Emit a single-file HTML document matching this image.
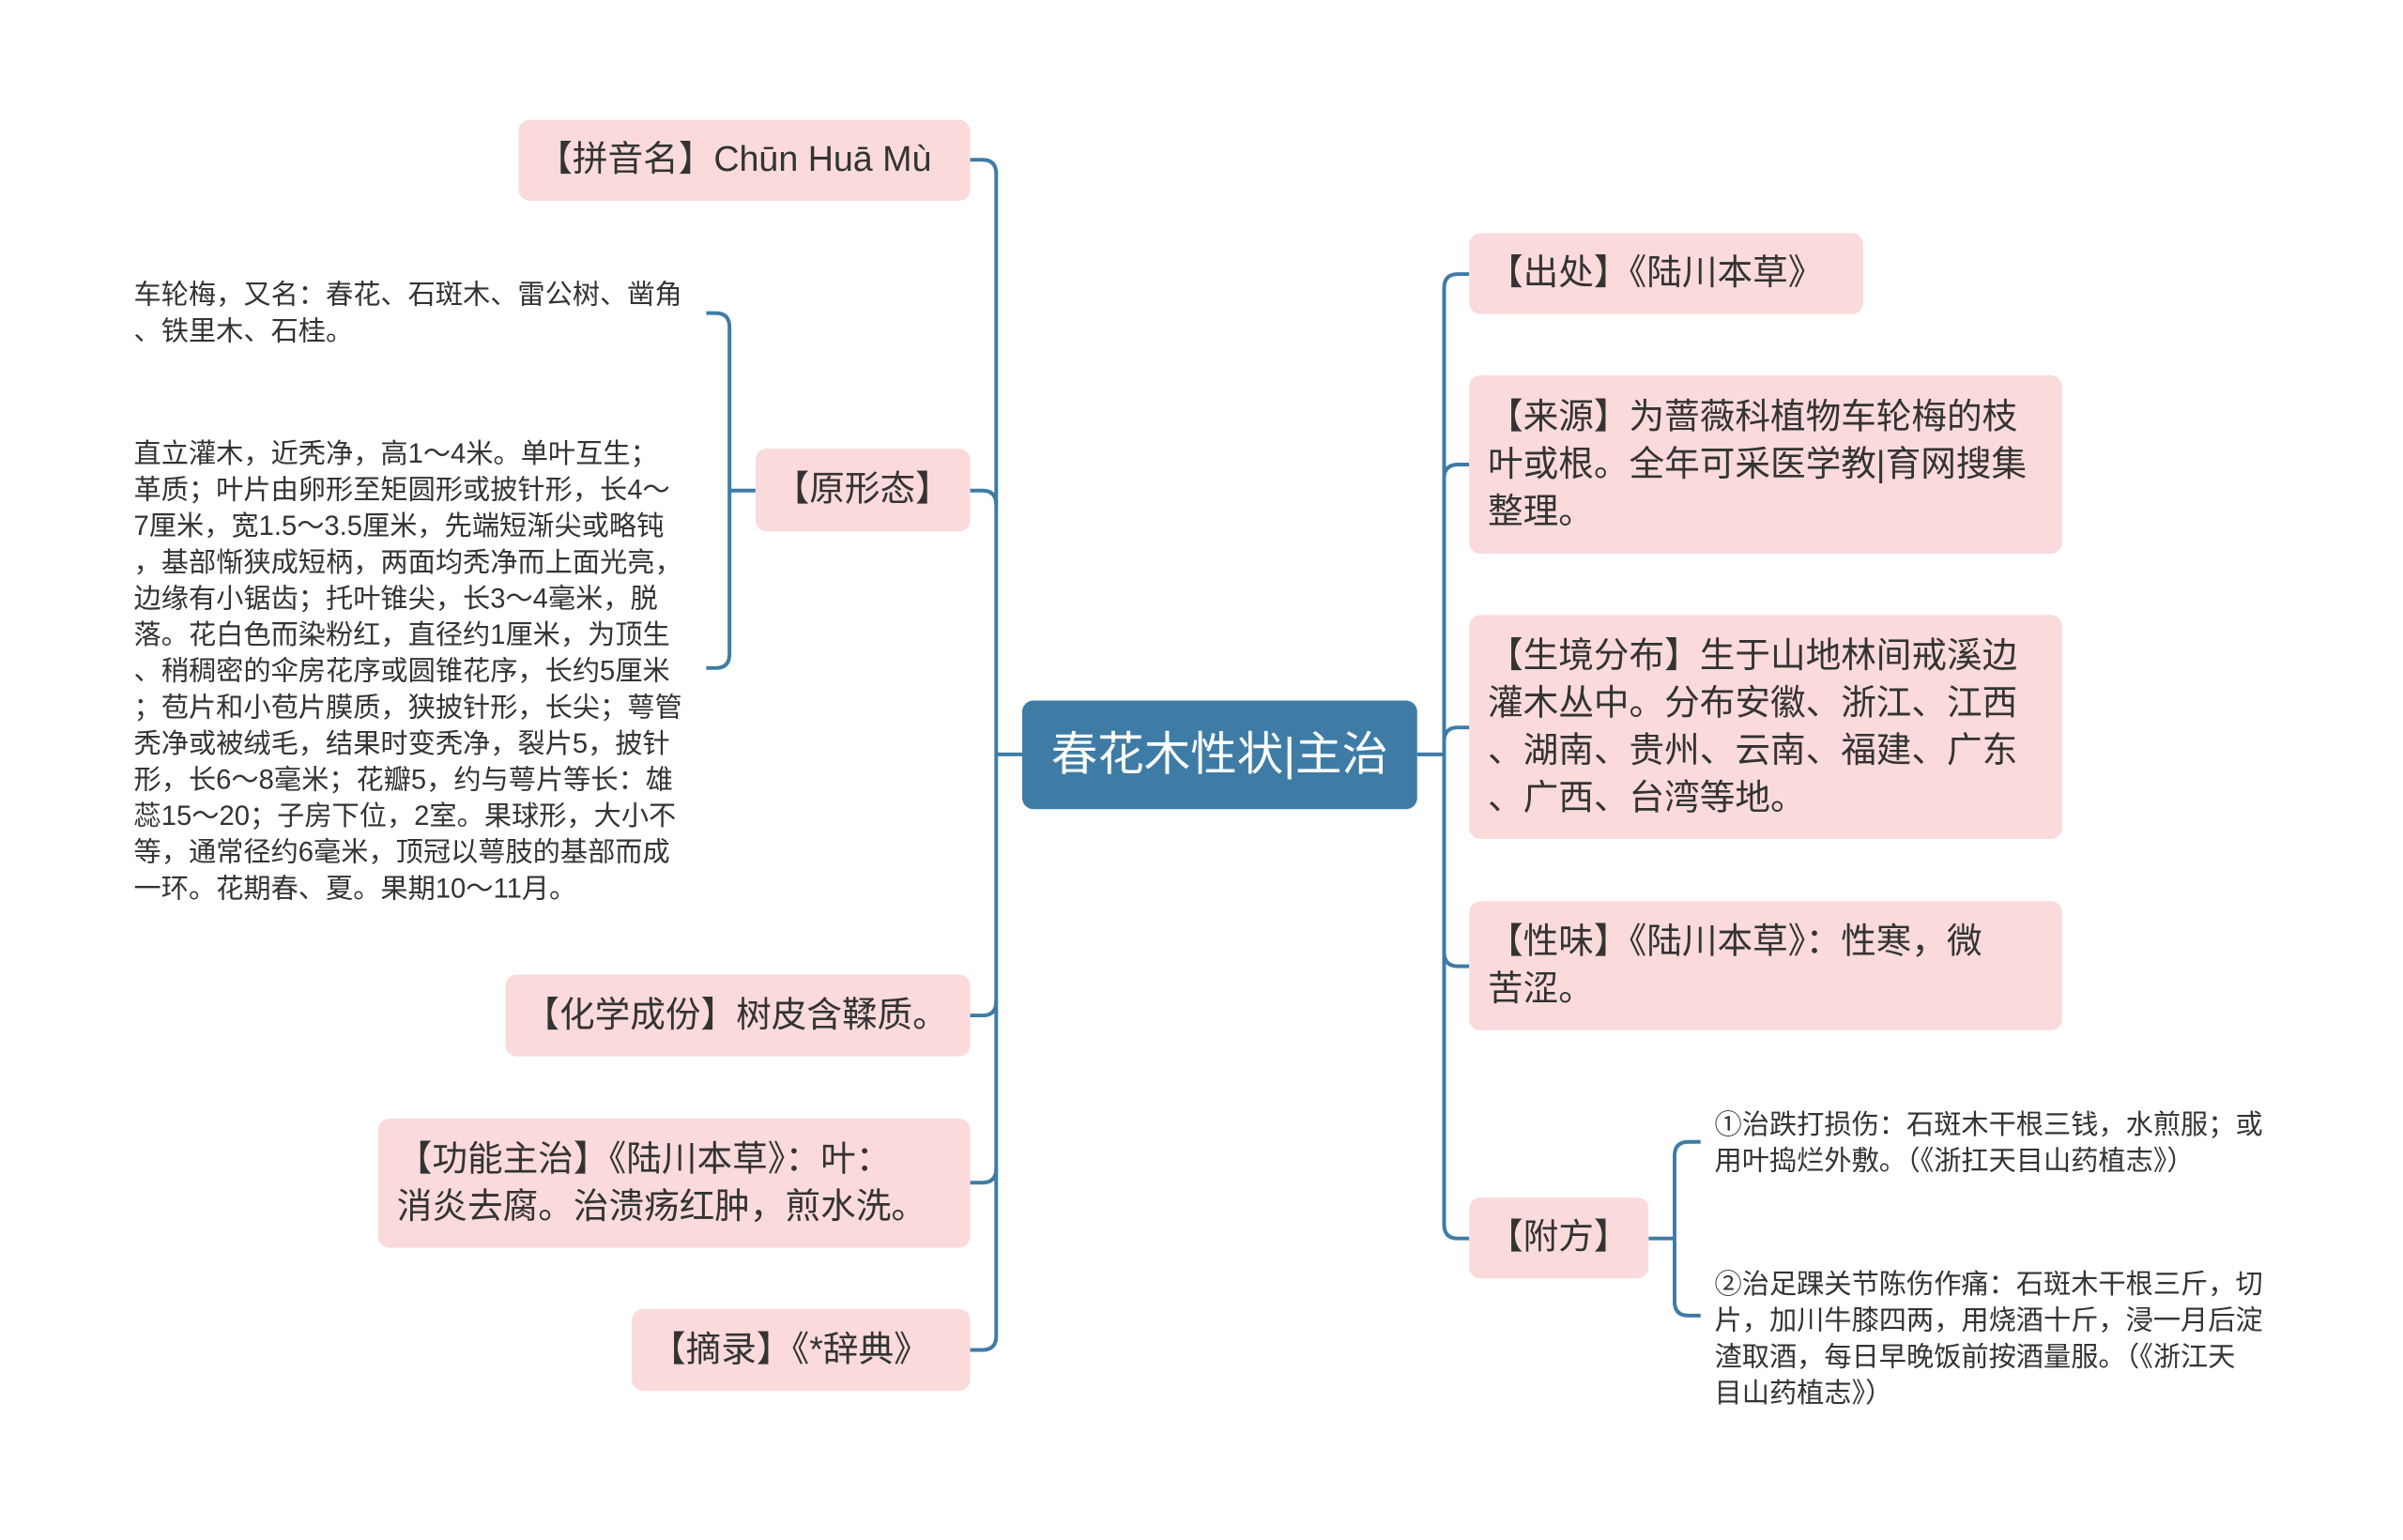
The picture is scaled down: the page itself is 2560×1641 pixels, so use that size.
<!DOCTYPE html>
<html><head><meta charset="utf-8"><style>
body{margin:0;width:2560px;height:1641px;background:#fff;position:relative;overflow:hidden;font-family:"Liberation Sans","Noto Sans CJK SC",sans-serif;color:#333}
#w{position:absolute;left:0;top:0;width:2560px;height:1641px;transform:scale(0.99);transform-origin:0 0}
.n{position:absolute;background:#fadadb;border-radius:12px;box-sizing:border-box;font-size:38px;line-height:51px;padding:0 20px;display:flex;align-items:center;white-space:nowrap}
.t{position:absolute;font-size:29.5px;line-height:39px;color:#333;white-space:nowrap}
</style></head><body><div id="w">
<svg width="2560" height="1641" style="position:absolute;left:0;top:0" fill="none" stroke="#3e7ca6" stroke-width="4">
<path d="M1100 812 H1072"/>
<path d="M1044 172 H1057 Q1072 172 1072 187 V1438 Q1072 1453 1057 1453 H1044"/>
<path d="M1044 528 H1057 Q1072 528 1072 543"/>
<path d="M1044 1093 H1057 Q1072 1093 1072 1078"/>
<path d="M1044 1273 H1057 Q1072 1273 1072 1258"/>
<path d="M813 528 H785"/>
<path d="M760 337 H770 Q785 337 785 352 V704 Q785 719 770 719 H760"/>
<path d="M1525 812 H1554"/>
<path d="M1581 295 H1569 Q1554 295 1554 310 V1318 Q1554 1333 1569 1333 H1581"/>
<path d="M1581 500 H1569 Q1554 500 1554 515"/>
<path d="M1581 783 H1569 Q1554 783 1554 798"/>
<path d="M1581 1040 H1569 Q1554 1040 1554 1025"/>
<path d="M1774 1333 H1802"/>
<path d="M1830 1229 H1817 Q1802 1229 1802 1244 V1401 Q1802 1416 1817 1416 H1830"/>
</svg>
<div class="n" style="left:1100px;top:754px;width:425px;height:117px;background:#3e7ca6;color:#fff;font-size:50px;justify-content:center">春花木性状|主治</div>

<div class="n" style="left:558px;top:129px;width:486px;height:87px">【拼音名】Chūn Huā Mù</div>
<div class="n" style="left:813px;top:483px;width:231px;height:89px">【原形态】</div>
<div class="n" style="left:544px;top:1049px;width:500px;height:88px">【化学成份】树皮含鞣质。</div>
<div class="n" style="left:407px;top:1204px;width:637px;height:139px">【功能主治】《陆川本草》：叶：<br>消炎去腐。治溃疡红肿，煎水洗。</div>
<div class="n" style="left:680px;top:1409px;width:364px;height:88px">【摘录】《*辞典》</div>

<div class="t" style="left:144px;top:298px">车轮梅，又名：春花、石斑木、雷公树、凿角<br>、铁里木、石桂。</div>
<div class="t" style="left:144px;top:469px">直立灌木，近秃净，高1～4米。单叶互生；<br>革质；叶片由卵形至矩圆形或披针形，长4～<br>7厘米，宽1.5～3.5厘米，先端短渐尖或略钝<br>，基部惭狭成短柄，两面均秃净而上面光亮，<br>边缘有小锯齿；托叶锥尖，长3～4毫米，脱<br>落。花白色而染粉红，直径约1厘米，为顶生<br>、稍稠密的伞房花序或圆锥花序，长约5厘米<br>；苞片和小苞片膜质，狭披针形，长尖；萼管<br>秃净或被绒毛，结果时变秃净，裂片5，披针<br>形，长6～8毫米；花瓣5，约与萼片等长：雄<br>蕊15～20；子房下位，2室。果球形，大小不<br>等，通常径约6毫米，顶冠以萼肢的基部而成<br>一环。花期春、夏。果期10～11月。</div>

<div class="n" style="left:1581px;top:251px;width:424px;height:87px">【出处】《陆川本草》</div>
<div class="n" style="left:1581px;top:404px;width:638px;height:192px">【来源】为蔷薇科植物车轮梅的枝<br>叶或根。全年可采医学教|育网搜集<br>整理。</div>
<div class="n" style="left:1581px;top:662px;width:638px;height:241px">【生境分布】生于山地林间戒溪边<br>灌木丛中。分布安徽、浙江、江西<br>、湖南、贵州、云南、福建、广东<br>、广西、台湾等地。</div>
<div class="n" style="left:1581px;top:970px;width:638px;height:139px">【性味】《陆川本草》：性寒，微<br>苦涩。</div>
<div class="n" style="left:1581px;top:1289px;width:193px;height:87px">【附方】</div>

<div class="t" style="left:1845px;top:1191px">①治跌打损伤：石斑木干根三钱，水煎服；或<br>用叶捣烂外敷。（《浙扛天目山药植志》）</div>
<div class="t" style="left:1845px;top:1363px">②治足踝关节陈伤作痛：石斑木干根三斤，切<br>片，加川牛膝四两，用烧酒十斤，浸一月后淀<br>渣取酒，每日早晚饭前按酒量服。（《浙江天<br>目山药植志》）</div>
</div></body></html>
